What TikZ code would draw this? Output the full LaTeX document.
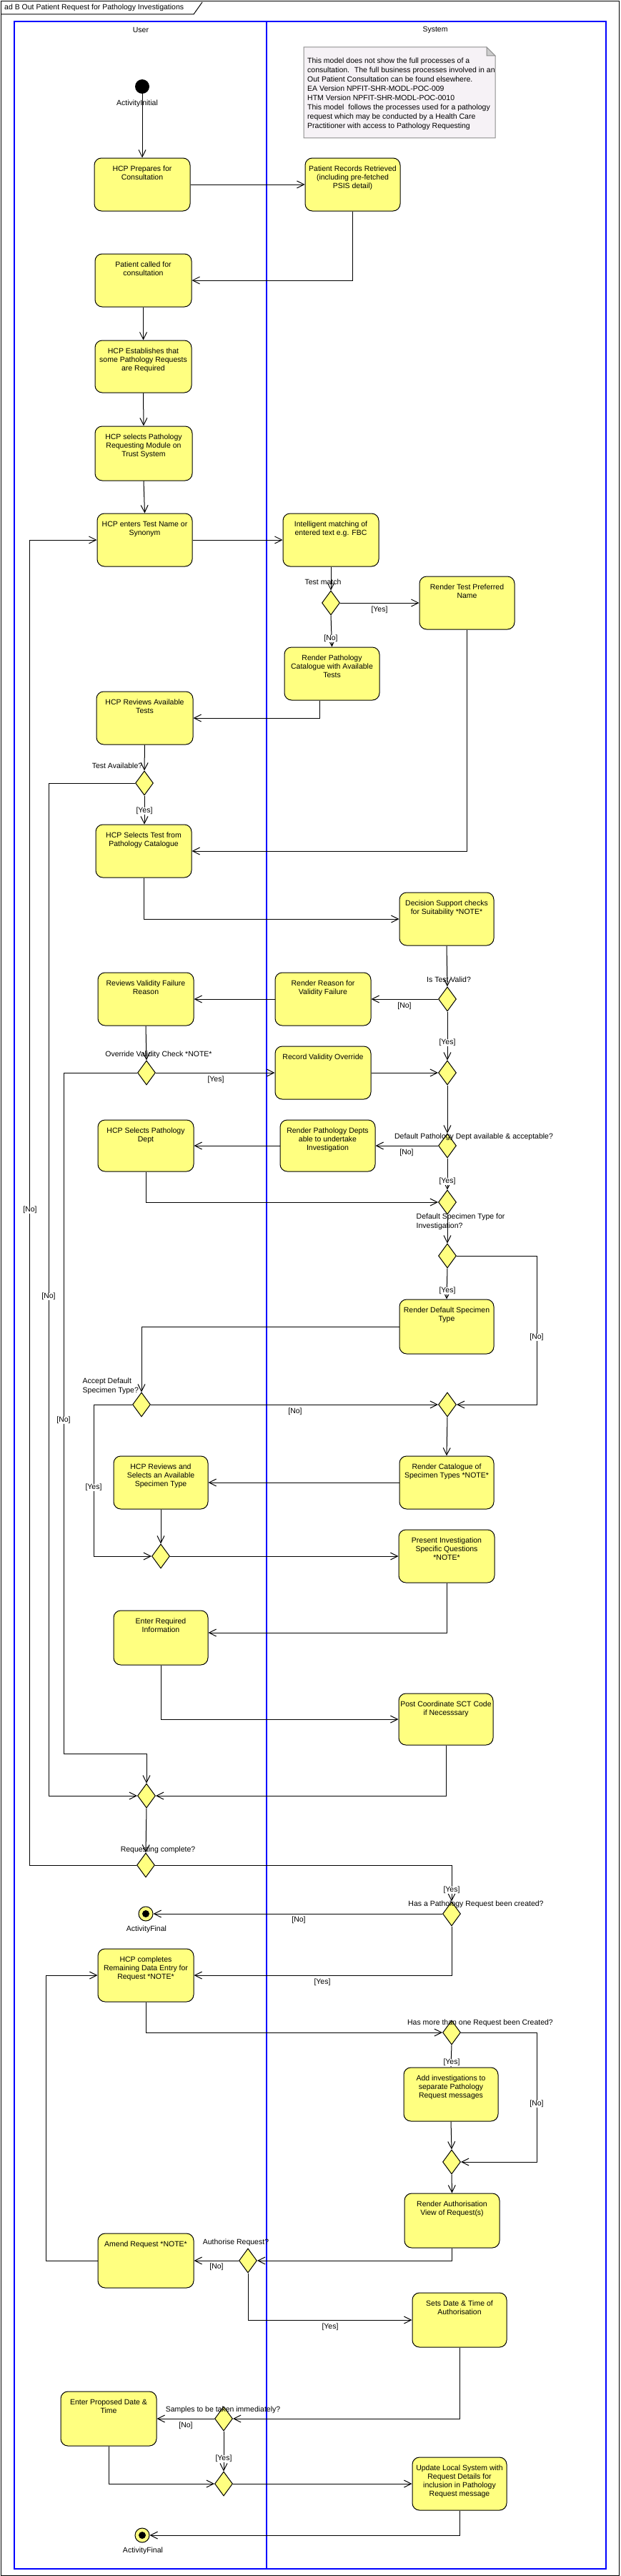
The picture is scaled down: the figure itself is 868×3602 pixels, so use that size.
\documentclass[tikz,border=0pt]{standalone}
\usepackage{fontspec}
\setmainfont{Liberation Sans}
\usetikzlibrary{arrows.meta,shapes.geometric,calc}
\definecolor{actyellow}{RGB}{255,255,128}
\definecolor{notefill}{RGB}{246,242,246}
\definecolor{notegray}{RGB}{140,140,140}
\definecolor{foldgray}{RGB}{205,205,205}
\definecolor{laneblue}{RGB}{0,0,255}
\tikzset{
  base/.style={font=\fontsize{10.5}{12}\selectfont},
  actshape/.style={draw=black, fill=actyellow, rounded corners=10pt, line width=1pt, inner sep=0pt},
  acttext/.style={base, align=center, inner sep=0pt, anchor=north},
  dec/.style={diamond, draw=black, fill=actyellow, line width=1pt, inner sep=0pt, minimum width=25pt, minimum height=34pt},
  flow/.style={draw=black, line width=1pt, -{Straight Barb[length=10pt,width=10pt]}},
  plain/.style={draw=black, line width=1pt},
  lbl/.style={base, inner sep=0.5pt},
  guard/.style={base, inner sep=0.5pt, fill=white},
  lane/.style={draw=laneblue, line width=2pt},
}
\newcommand\actnode[6]{%
  \node[actshape, minimum width={(#4-#2)*1pt}, minimum height={(#5-#3)*1pt}] (#1) at ({(#2+#4)/2},{(#3+#5)/2}) {};
  \node[acttext] (#1t) at ([yshift=-11pt]#1.north) {#6};
}
\begin{document}
\begin{tikzpicture}[x=1pt,y=-1pt]
\useasboundingbox (0,0) rectangle (868,3602);
% frame
\draw[line width=1pt] (1,2) rectangle (866,3601);
\draw[line width=1pt] (1,20) -- (271,20) -- (283,3);
\node[base, anchor=west, inner sep=0] (title) at (6,11) {ad B Out Patient Request for Pathology Investigations};
% lanes
\draw[lane] (20,30) rectangle (848,3592);
\draw[lane] (373,30) -- (373,3592);
\node[base] (laneU) at (197,42) {User};
\node[base] (laneS) at (609,42) {System};
% note
\draw[fill=notefill, draw=notegray, line width=1pt] (425,66) -- (681,66) -- (693,78) -- (693,193) -- (425,193) -- cycle;
\draw[fill=foldgray, draw=notegray, line width=1pt] (681,66) -- (681,78) -- (693,78) -- cycle;
\node[font=\fontsize{10.5}{13}\selectfont, align=left, anchor=north west, inner sep=0] (notetext) at (430,81) {This model does not show the full processes of a\\consultation.~ The full business processes involved in an\\Out Patient Consultation can be found elsewhere.\\EA Version NPFIT-SHR-MODL-POC-009\\HTM Version NPFIT-SHR-MODL-POC-0010\\This model~ follows the processes used for a pathology\\request which may be conducted by a Health Care\\Practitioner with access to Pathology Requesting};

% initial / final
\node[circle, fill=black, minimum size=20pt, inner sep=0] (init) at (199,121) {};
\node[lbl] (initl) at (192,145) {ActivityInitial};
\node[circle, draw=black, fill=actyellow, line width=1pt, minimum size=20pt, inner sep=0] (fin1) at (204,2676) {};
\fill (fin1.center) circle (5pt);
\node[lbl] (fin1l) at (205,2698) {ActivityFinal};
\node[circle, draw=black, fill=actyellow, line width=1pt, minimum size=20pt, inner sep=0] (fin2) at (199,3545) {};
\fill (fin2.center) circle (5pt);
\node[lbl] (fin2l) at (200,3567) {ActivityFinal};

% activities
\actnode{prep}{132}{221}{266}{295}{HCP Prepares for\\Consultation}
\actnode{rec}{427}{221}{560}{295}{Patient Records Retrieved\\(including pre-fetched\\PSIS detail)}
\actnode{called}{133}{355}{268}{429}{Patient called for\\consultation}
\actnode{estab}{133}{476}{268}{549}{HCP Establishes that\\some Pathology Requests\\are Required}
\actnode{selmod}{133}{596}{269}{672}{HCP selects Pathology\\Requesting Module on\\Trust System}
\actnode{enters}{136}{718}{269}{792}{HCP enters Test Name or\\Synonym}
\actnode{match}{396}{718}{530}{792}{Intelligent matching of\\entered text e.g. FBC}
\actnode{tpn}{587}{806}{720}{880}{Render Test Preferred\\Name}
\actnode{cat}{398}{905}{531}{979}{Render Pathology\\Catalogue with Available\\Tests}
\actnode{rev}{135}{967}{270}{1041}{HCP Reviews Available\\Tests}
\actnode{seltest}{134}{1153}{268}{1227}{HCP Selects Test from\\Pathology Catalogue}
\actnode{dss}{559}{1248}{691}{1322}{Decision Support checks\\for Suitability *NOTE*}
\actnode{rvf}{137}{1360}{271}{1434}{Reviews Validity Failure\\Reason}
\actnode{rrv}{385}{1360}{519}{1434}{Render Reason for\\Validity Failure}
\actnode{rvo}{385}{1463}{519}{1537}{Record Validity Override}
\actnode{spd}{137}{1566}{271}{1638}{HCP Selects Pathology\\Dept}
\actnode{rpd}{392}{1566}{525}{1638}{Render Pathology Depts\\able to undertake\\Investigation}
\actnode{rds}{559}{1817}{691}{1893}{Render Default Specimen\\Type}
\actnode{hrs}{159}{2036}{291}{2110}{HCP Reviews and\\Selects an Available\\Specimen Type}
\actnode{rcs}{559}{2036}{691}{2110}{Render Catalogue of\\Specimen Types *NOTE*}
\actnode{piq}{558}{2139}{692}{2213}{Present Investigation\\Specific Questions\\*NOTE*}
\actnode{eri}{159}{2252}{291}{2328}{Enter Required\\Information}
\actnode{pcs}{558}{2368}{690}{2440}{Post Coordinate SCT Code\\if Necesssary}
\actnode{hcd}{137}{2725}{271}{2799}{HCP completes\\Remaining Data Entry for\\Request *NOTE*}
\actnode{aip}{565}{2891}{697}{2966}{Add investigations to\\separate Pathology\\Request messages}
\actnode{rav}{566}{3067}{699}{3143}{Render Authorisation\\View of Request(s)}
\actnode{amd}{137}{3123}{271}{3199}{Amend Request *NOTE*}
\actnode{sdt}{577}{3206}{709}{3282}{Sets Date \& Time of\\Authorisation}
\actnode{epd}{85}{3344}{219}{3420}{Enter Proposed Date \&\\Time}
\actnode{upd}{577}{3436}{709}{3510}{Update Local System with\\Request Details for\\inclusion in Pathology\\Request message}

% decisions / merges
\node[dec] (d1) at (463,843) {};
\node[dec] (d2) at (202,1095) {};
\node[dec] (d3) at (626,1397) {};
\node[dec] (d4) at (205,1500) {};
\node[dec] (m1) at (626,1500) {};
\node[dec] (d5) at (626,1602) {};
\node[dec] (m2) at (626,1681) {};
\node[dec] (d6) at (626,1756) {};
\node[dec] (d7) at (198,1964) {};
\node[dec] (m3) at (626,1964) {};
\node[dec] (m4) at (225,2176) {};
\node[dec] (m5) at (205,2511) {};
\node[dec] (d8) at (204,2608) {};
\node[dec] (d9) at (632,2676) {};
\node[dec] (d10) at (632,2842) {};
\node[dec] (m6) at (632,3023) {};
\node[dec] (d11) at (347,3161) {};
\node[dec] (d12) at (313,3382) {};
\node[dec] (m7) at (313,3473) {};

% corner coordinates
\coordinate (cA) at (68,2511);
\coordinate (cB) at (89,2452);
\coordinate (cC) at (751,1964);
\coordinate (cD) at (131,2176);
\coordinate (cE) at (751,3023);
\coordinate (cF) at (64,2762);

% connectors
\draw[flow] (init) -- (prep.north);
\draw[flow] (prep.east) -- (rec.west);
\draw[flow] (rec.south) |- (called.east);
\draw[flow] (called.south) -- (estab.north);
\draw[flow] (estab.south) -- (selmod.north);
\draw[flow] (selmod.south) -- (enters.north);
\draw[flow] (enters.east) -- (match.west);
\draw[flow] (match.south) -- (d1.north);
\draw[flow] (d1.east) -- (tpn.west);
\draw[flow] (d1.south) -- (cat.north);
\draw[flow] ([xshift=-17pt]cat.south) |- (rev.east);
\draw[flow] (tpn.south) |- (seltest.east);
\draw[flow] (rev.south) -- (d2.north);
\draw[flow] (d2.south) -- (seltest.north -| d2.south);
\draw[flow] (d2.west) -| (cA) -- (m5.west);
\draw[flow] (seltest.south) |- (dss.west);
\draw[flow] (dss.south) -- (d3.north);
\draw[flow] (d3.west) -- (rrv.east);
\draw[flow] (rrv.west) -- (rvf.east);
\draw[flow] (rvf.south) -- (d4.north);
\draw[flow] (d4.east) -- (rvo.west);
\draw[flow] (d4.west) -| (cB) -| (m5.north);
\draw[flow] (rvo.east) -- (m1.west);
\draw[flow] (d3.south) -- (m1.north);
\draw[flow] (m1.south) -- (d5.north);
\draw[flow] (d5.west) -- (rpd.east);
\draw[flow] (rpd.west) -- (spd.east);
\draw[flow] (d5.south) -- (m2.north);
\draw[flow] (spd.south) |- (m2.west);
\draw[flow] (m2.south) -- (d6.north);
\draw[flow] (d6.east) -| (cC) -- (m3.east);
\draw[flow] (d6.south) -- (rds.north);
\draw[flow] (rds.west) -| (d7.north);
\draw[flow] (d7.east) -- (m3.west);
\draw[flow] (d7.west) -| (cD) -- (m4.west);
\draw[flow] (m3.south) -- (rcs.north);
\draw[flow] (rcs.west) -- (hrs.east);
\draw[flow] (hrs.south) -- (m4.north);
\draw[flow] (m4.east) -- (piq.west);
\draw[flow] (piq.south) |- ([yshift=7pt]eri.east);
\draw[flow] (eri.south) |- (pcs.west);
\draw[flow] (pcs.south) |- (m5.east);
\draw[flow] (m5.south) -- (d8.north);
\draw[flow] (d8.west) -| ([xshift=-94pt]enters.west) -- (enters.west);
\draw[flow] (d8.east) -| (d9.north);
\draw[flow] (d9.west) -- (fin1.east);
\draw[flow] (d9.south) |- (hcd.east);
\draw[flow] (hcd.south) |- (d10.west);
\draw[flow] (d10.east) -| (cE) -- (m6.east);
\draw[flow] (d10.south) -- (aip.north);
\draw[flow] (aip.south) -- (m6.north);
\draw[flow] (m6.south) -- (rav.north);
\draw[flow] (rav.south) |- (d11.east);
\draw[flow] (d11.west) -- (amd.east);
\draw[flow] (amd.west) -| (cF) -- (hcd.west);
\draw[flow] (d11.south) |- (sdt.west);
\draw[flow] (sdt.south) |- (d12.east);
\draw[flow] (d12.west) -- (epd.east);
\draw[flow] (d12.south) -- (m7.north);
\draw[flow] (epd.south) |- (m7.west);
\draw[flow] (m7.east) -- (upd.west);
\draw[flow] (upd.south) |- (fin2.east);

% decision labels
\node[lbl] (l1) at (452,814) {Test match};
\node[lbl] (l2) at (164,1071) {Test Available?};
\node[lbl] (l3) at (628,1370) {Is Test Valid?};
\node[lbl] (l4) at (222,1475) {Override Validity Check *NOTE*};
\node[lbl] (l5) at (663,1590) {Default Pathology Dept available \& acceptable?};
\node[lbl, align=left, anchor=north west, font=\fontsize{10.5}{13}\selectfont] (l6) at (582,1696) {Default Specimen Type for\\Investigation?};
\node[lbl, align=left, anchor=north west, font=\fontsize{10.5}{13}\selectfont] (l7) at (115,1926) {Accept Default\\Specimen Type?};
\node[lbl] (l8) at (221,2587) {Requesting complete?};
\node[lbl] (l9) at (666,2663) {Has a Pathology Request been created?};
\node[lbl] (l10) at (672,2829) {Has more than one Request been Created?};
\node[lbl] (l11) at (330,3136) {Authorise Request?};
\node[lbl] (l12) at (312,3370) {Samples to be taken immediately?};

% guards
\node[guard] (g1) at (531,853) {[Yes]};
\node[guard] (g2) at (463,893) {[No]};
\node[guard] (g3) at (202,1134) {[Yes]};
\node[guard] (g4) at (566,1407) {[No]};
\node[guard] (g5) at (302,1510) {[Yes]};
\node[guard] (g6) at (626,1458) {[Yes]};
\node[guard] (g7) at (569,1612) {[No]};
\node[guard] (g8) at (626,1652) {[Yes]};
\node[guard] (g9) at (626,1805) {[Yes]};
\node[guard] (g10) at (751,1870) {[No]};
\node[guard] (g11) at (413,1974) {[No]};
\node[guard] (g12) at (131,2080) {[Yes]};
\node[guard] (g13) at (89,1986) {[No]};
\node[guard] (g14) at (68,1813) {[No]};
\node[guard] (g15) at (42,1692) {[No]};
\node[guard] (g16) at (632,2643) {[Yes]};
\node[guard] (g17) at (418,2685) {[No]};
\node[guard] (g18) at (451,2772) {[Yes]};
\node[guard] (g19) at (632,2884) {[Yes]};
\node[guard] (g20) at (751,2942) {[No]};
\node[guard] (g21) at (303,3170) {[No]};
\node[guard] (g22) at (462,3254) {[Yes]};
\node[guard] (g23) at (260,3392) {[No]};
\node[guard] (g24) at (313,3438) {[Yes]};
\end{tikzpicture}
\end{document}
